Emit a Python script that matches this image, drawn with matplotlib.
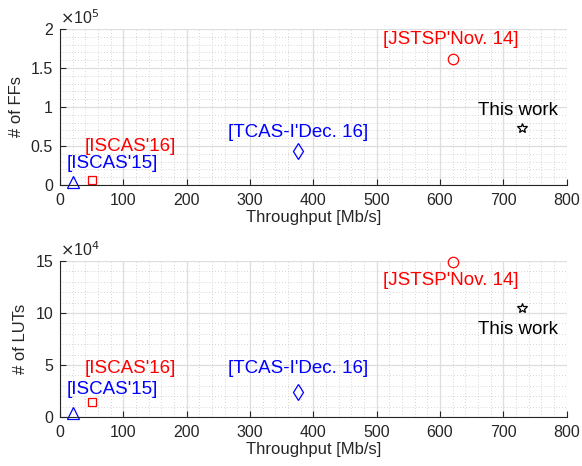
import numpy as np
import matplotlib.pyplot as plt
from matplotlib.ticker import MultipleLocator, FuncFormatter

plt.rcParams['font.family'] = ['Liberation Sans', 'DejaVu Sans']

# data
works = ["[ISCAS'15]", "[ISCAS'16]", "[TCAS-I'Dec. 16]", "[JSTSP'Nov. 14]", "This work"]
throughput = [20, 50, 376, 620, 729]
ffs = [4000, 6500, 43000, 162000, 73500]
luts = [4000, 14000, 24000, 149000, 105000]
markers = ['^', 's', 'd', 'o', '*']
colors = ['blue', 'red', 'blue', 'red', 'black']

# label positions (left edge, vertical center) in data coords
ff_label_pos = [(10, 27000), (39, 49000), (266, 67000), (510, 186000), (660, 96000)]
lut_label_pos = [(10, 26000), (39, 47000), (266, 47000), (510, 131500), (660, 84000)]

marker_sizes = {'^': 9, 's': 6, 'd': 8, 'o': 7.5, '*': 7.5}

fig = plt.figure(figsize=(5.82, 4.66), dpi=100)
ax1 = fig.add_axes([0.1031, 0.603, 0.8706, 0.3348])
ax2 = fig.add_axes([0.1031, 0.1052, 0.8706, 0.3348])

def style_axis(ax, ylabel, ymax, ymajor, yminor, power):
    ax.set_xlim(0, 800)
    ax.set_ylim(0, ymax)
    ax.xaxis.set_major_locator(MultipleLocator(100))
    ax.xaxis.set_minor_locator(MultipleLocator(20))
    ax.yaxis.set_major_locator(MultipleLocator(ymajor))
    ax.yaxis.set_minor_locator(MultipleLocator(yminor))
    scale = 10 ** power
    ax.yaxis.set_major_formatter(FuncFormatter(lambda v, p: '%g' % (v / scale)))
    ax.text(0.0, 1.015, r'$\times$10$^{%d}$' % power, transform=ax.transAxes,
            fontsize=11.5, color='0.15', ha='left', va='bottom')
    ax.grid(True, which='major', color='0.87', linewidth=0.9, linestyle='-')
    ax.grid(True, which='minor', color='0.78', linewidth=0.6, linestyle=(0, (1, 2.5)))
    ax.set_axisbelow(True)
    ax.spines['top'].set_visible(False)
    ax.spines['right'].set_visible(False)
    ax.spines['left'].set_color('0.15')
    ax.spines['bottom'].set_color('0.15')
    ax.tick_params(which='major', direction='in', length=4, labelsize=11.5, colors='0.15')
    ax.tick_params(axis='x', which='major', pad=6)
    ax.tick_params(axis='y', which='major', pad=5)
    ax.tick_params(which='minor', length=0)
    ax.set_xlabel('Throughput [Mb/s]', fontsize=12, color='0.15', labelpad=1)
    ax.set_ylabel(ylabel, fontsize=12, color='0.15', labelpad=5)

for ax, yvals, pos in [(ax1, ffs, ff_label_pos), (ax2, luts, lut_label_pos)]:
    for i in range(len(works)):
        ax.plot(throughput[i], yvals[i], marker=markers[i],
                markersize=marker_sizes[markers[i]],
                markerfacecolor='none', markeredgecolor=colors[i],
                markeredgewidth=0.9, linestyle='none', clip_on=False)
        ax.text(pos[i][0], pos[i][1], works[i], color=colors[i], fontsize=13.5,
                ha='left', va='center')

style_axis(ax1, '# of FFs', 200000, 50000, 10000, 5)
style_axis(ax2, '# of LUTs', 150000, 50000, 10000, 4)

fig.savefig('out.png', dpi=100)
